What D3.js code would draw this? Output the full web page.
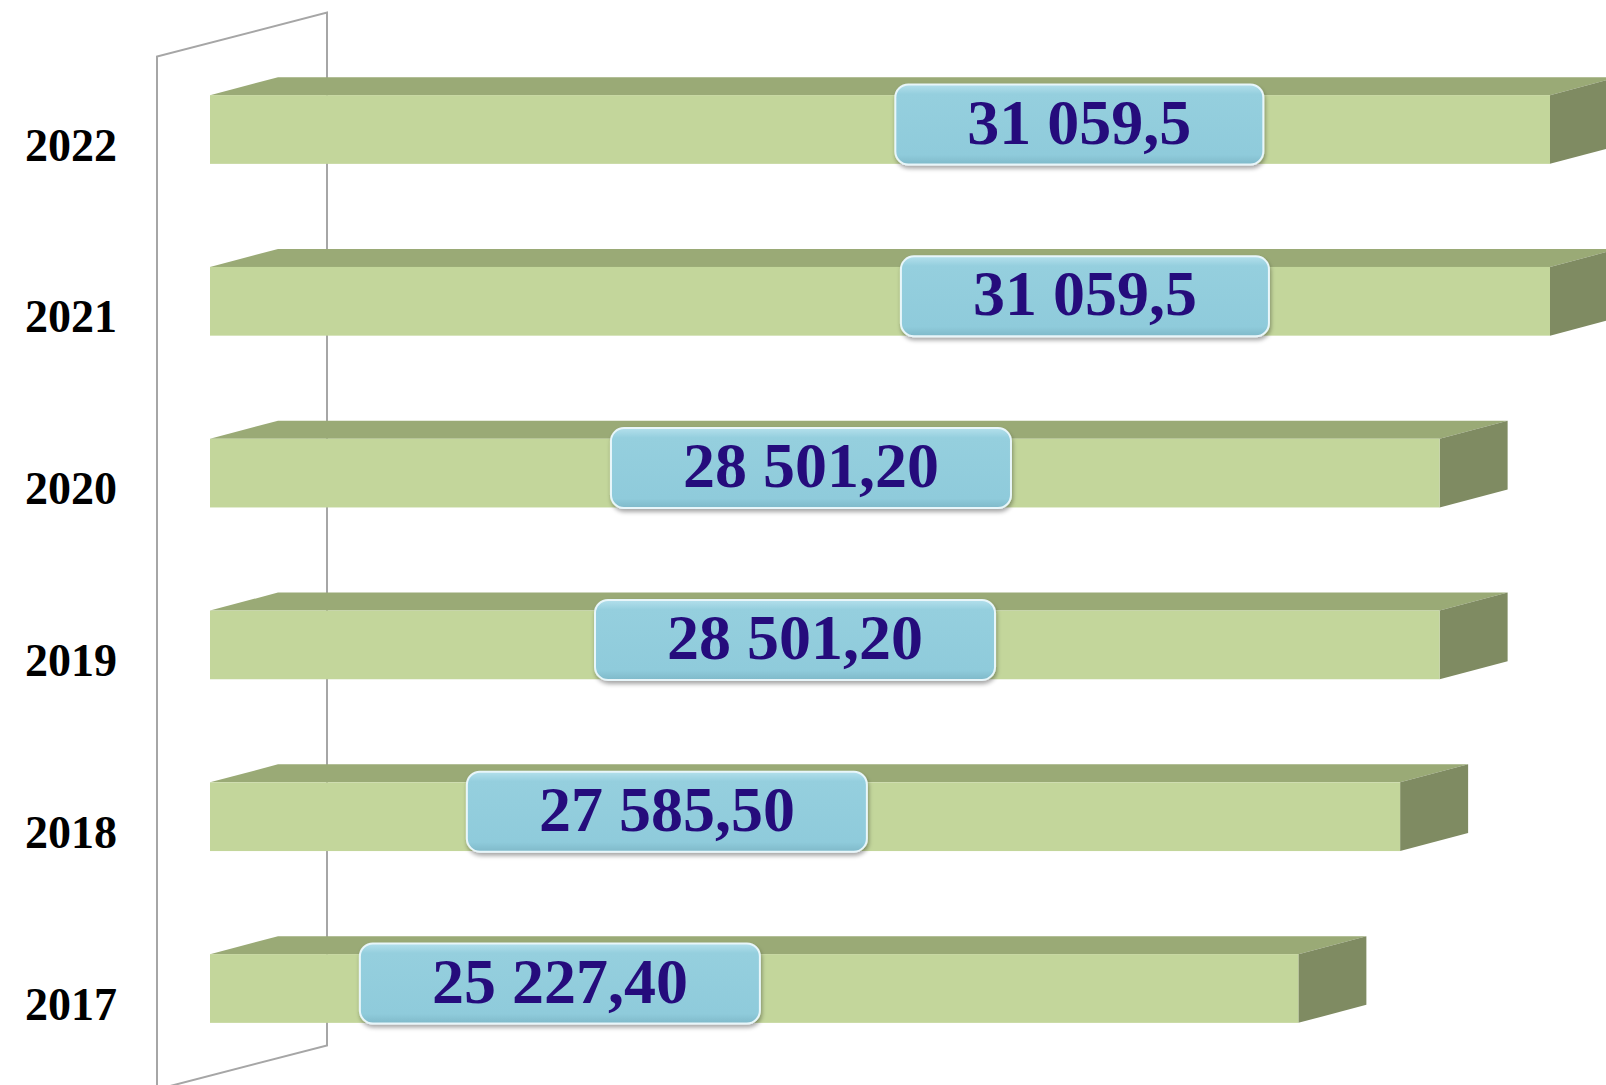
<!DOCTYPE html>
<html>
<head>
<meta charset="utf-8">
<script src="https://cdn.jsdelivr.net/npm/d3@7"></script>
<style>
  html, body { margin: 0; padding: 0; background: #fff; }
  svg { display: block; }
</style>
</head>
<body>
<div class="chart"></div>
<script>
(function() {
  // data
  var years = ['2022', '2021', '2020', '2019', '2018', '2017'];
  var values = [31059.5, 31059.5, 28501.2, 28501.2, 27585.5, 25227.4];
  var valueLabels = ['31 059,5', '31 059,5', '28 501,20', '28 501,20', '27 585,50', '25 227,40'];
  // where each data label sits along the value axis (hand-placed in the original)
  var labelAnchor = [20150, 20280, 13930, 13560, 10590, 8110];

  var opts = {
    width: 1606,
    height: 1085,
    depthX: 68,
    depthY: -18
  };

  var svg = d3.select('.chart')
    .append('svg')
    .attr('width', opts.width)
    .attr('height', opts.height);

  var x = d3.scaleLinear()
    .domain([0, 35000])
    .range([210, 1720]);

  var y = d3.scaleBand()
    .domain(years)
    .range([43.6, 1074.4])
    .paddingInner(0.6)
    .paddingOuter(0.3);

  var bw = y.bandwidth();

  var defs = svg.append('defs');

  var grad = defs.append('linearGradient')
    .attr('id', 'boxGrad')
    .attr('x1', 0).attr('y1', 0).attr('x2', 0).attr('y2', 1);
  grad.append('stop').attr('offset', '0%').attr('stop-color', '#b4e0ec');
  grad.append('stop').attr('offset', '12%').attr('stop-color', '#95cfde');
  grad.append('stop').attr('offset', '88%').attr('stop-color', '#8fcbdb');
  grad.append('stop').attr('offset', '100%').attr('stop-color', '#7fb9c9');

  var shadow = defs.append('filter')
    .attr('id', 'boxShadow')
    .attr('x', '-10%').attr('y', '-20%')
    .attr('width', '120%').attr('height', '150%');
  shadow.append('feDropShadow')
    .attr('dx', 1).attr('dy', 3)
    .attr('stdDeviation', 2)
    .attr('flood-color', '#000')
    .attr('flood-opacity', 0.35);

  // back wall / side frame of the 3d plot
  var wallFront = x(0) - 53;
  var wallDx = 170, wallDy = -44;
  var wallTop = y.range()[0] + 13;
  var wallBottom = y.range()[1];
  var wall = svg.append('g')
    .attr('fill', 'none')
    .attr('stroke', '#a6a6a6')
    .attr('stroke-width', 2);
  wall.append('path')
    .attr('d', 'M' + wallFront + ',' + (wallBottom + 40) +
               'L' + wallFront + ',' + wallTop +
               'L' + (wallFront + wallDx) + ',' + (wallTop + wallDy) +
               'L' + (wallFront + wallDx) + ',' + (wallBottom + wallDy + 15) +
               'L' + wallFront + ',' + (wallBottom + 15));

  var rows = years.map(function(yr, i) {
    return { year: yr, value: values[i], label: valueLabels[i], anchor: labelAnchor[i] };
  });

  var bars = svg.selectAll('.bar').data(rows)
    .enter().append('g')
      .attr('class', 'bar');

  // top face
  bars.append('path')
    .attr('fill', '#9aaa76')
    .attr('d', function(d) {
      var x0 = x(0), x1 = x(d.value), y0 = y(d.year);
      return 'M' + x0 + ',' + y0 +
             'L' + (x0 + opts.depthX) + ',' + (y0 + opts.depthY) +
             'L' + (x1 + opts.depthX) + ',' + (y0 + opts.depthY) +
             'L' + x1 + ',' + y0 + 'Z';
    });

  // right side face
  bars.append('path')
    .attr('fill', '#7f8b62')
    .attr('d', function(d) {
      var x1 = x(d.value), y0 = y(d.year);
      return 'M' + x1 + ',' + y0 +
             'L' + (x1 + opts.depthX) + ',' + (y0 + opts.depthY) +
             'L' + (x1 + opts.depthX) + ',' + (y0 + bw + opts.depthY) +
             'L' + x1 + ',' + (y0 + bw) + 'Z';
    });

  // front face
  bars.append('rect')
    .attr('x', x(0))
    .attr('y', function(d) { return y(d.year); })
    .attr('width', function(d) { return x(d.value) - x(0); })
    .attr('height', bw)
    .attr('fill', '#c3d69b');

  // year labels
  svg.selectAll('.year').data(rows)
    .enter().append('text')
      .attr('class', 'year')
      .attr('x', 117)
      .attr('y', function(d) { return y(d.year) + bw / 2 + 31; })
      .attr('text-anchor', 'end')
      .style('font-family', '"Liberation Serif", "Times New Roman", serif')
      .style('font-weight', 'bold')
      .style('font-size', '46px')
      .style('fill', '#000')
      .text(function(d) { return d.year; });

  // value labels in glossy boxes
  var labels = svg.selectAll('.vlabel').data(rows)
    .enter().append('g')
      .attr('class', 'vlabel')
      .attr('transform', function(d) {
        return 'translate(' + x(d.anchor) + ',' + (y(d.year) + bw / 2 - 5) + ')';
      });

  var boxRect = labels.append('rect')
    .attr('rx', 13).attr('ry', 13)
    .attr('fill', 'url(#boxGrad)')
    .attr('stroke', '#e8f6fa')
    .attr('stroke-width', 2)
    .attr('filter', 'url(#boxShadow)');

  var vtext = labels.append('text')
    .attr('x', 0)
    .attr('y', 19)
    .attr('text-anchor', 'middle')
    .style('font-family', '"Liberation Serif", "Times New Roman", serif')
    .style('font-weight', 'bold')
    .style('font-size', '64px')
    .style('fill', '#250c7c')
    .text(function(d) { return d.label; });

  vtext.each(function(d) { d.tw = this.getComputedTextLength(); });

  boxRect
    .attr('x', function(d) { return -d.tw / 2 - 72; })
    .attr('y', -40)
    .attr('width', function(d) { return d.tw + 144; })
    .attr('height', 80);

}).call(this);
</script>
</body>
</html>
